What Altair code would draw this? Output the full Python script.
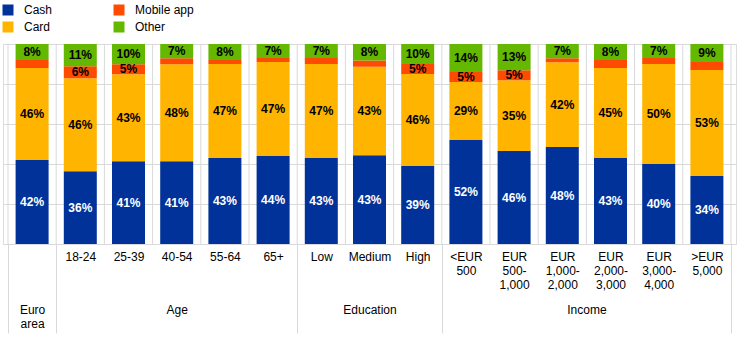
import altair as alt
import pandas as pd

categories = ["Euro area", "18-24", "25-39", "40-54", "55-64", "65+", "Low", "Medium", "High",
              "<EUR 500", "EUR 500-1,000", "EUR 1,000-2,000", "EUR 2,000-3,000",
              "EUR 3,000-4,000", ">EUR 5,000"]
tick_labels = ["", "18-24", "25-39", "40-54", "55-64", "65+", "Low", "Medium", "High",
               "<EUR|500", "EUR|500-|1,000", "EUR|1,000-|2,000", "EUR|2,000-|3,000",
               "EUR|3,000-|4,000", ">EUR|5,000"]
groups = ["Euro|area", "Age", "Education", "Income"]
group_sizes = [1, 5, 3, 6]

cash = [42, 36, 41, 41, 43, 44, 43, 43, 39, 52, 46, 48, 43, 40, 34]
card = [46, 46, 43, 48, 47, 47, 47, 43, 46, 29, 35, 42, 45, 50, 53]
mobile = [4, 6, 5, 3, 2, 2, 3, 3, 5, 5, 5, 2, 4, 3, 4]
other = [8, 11, 10, 7, 8, 7, 7, 8, 10, 14, 13, 7, 8, 7, 9]

series_names = ["Cash", "Card", "Mobile app", "Other"]
colors = {"Cash": "#003299", "Card": "#FFB400", "Mobile app": "#FF4B00", "Other": "#65B800"}

FONT = "Liberation Sans"
GRID = "#d9d9d9"

rows = []
for i, c in enumerate(categories):
    for k, (s, vals) in enumerate(zip(series_names, [cash, card, mobile, other])):
        rows.append({"cat": c, "pos": i + 0.5, "series": s, "ord": k, "value": vals[i]})
df = pd.DataFrame(rows)

n = len(categories)
bounds = pd.DataFrame({"b": list(range(n + 1))})
group_starts = []
acc = 0
for g in group_sizes:
    group_starts.append(acc)
    acc += g
group_bounds = group_starts + [acc]
group_centers = [s + g / 2 for s, g in zip(group_starts, group_sizes)]
group_arr = [""] * n
for gname, gc in zip(groups, group_centers):
    group_arr[int(gc)] = gname


def js_array(lst):
    return "[" + ",".join("'" + s.replace("'", "\\'") + "'" for s in lst) + "]"


xscale = alt.Scale(domain=[0, n], nice=False, zero=False)
yaxis = alt.Axis(grid=True, values=[0, 0.2, 0.4, 0.6, 0.8, 1.0], labels=False, ticks=False,
                 domain=False, title=None, gridColor=GRID, gridWidth=1)

grid_layer = alt.Chart(bounds).mark_rule(color=GRID, strokeWidth=1).encode(
    x=alt.X("b:Q", scale=xscale,
            axis=alt.Axis(orient="bottom", values=group_bounds, labels=False, ticks=True,
                          tickSize=89, tickColor=GRID, tickWidth=1, domain=False, grid=False,
                          title=None)),
    y=alt.value(0),
    y2=alt.value("height"),
)

bars = alt.Chart(df).mark_bar(size=33).encode(
    x=alt.X("pos:Q", scale=xscale,
            axis=alt.Axis(orient="bottom", values=[i + 0.5 for i in range(n)],
                          labelExpr="split(" + js_array(tick_labels) + "[floor(datum.value)], '|')",
                          ticks=False, domain=False, grid=False, title=None,
                          labelFont=FONT, labelFontSize=12, labelColor="black",
                          labelBaseline="top", labelPadding=7, labelLineHeight=14,
                          labelAngle=0, labelOverlap=False)),
    y=alt.Y("value:Q", stack="normalize", axis=yaxis),
    color=alt.Color("series:N",
                    scale=alt.Scale(domain=series_names, range=[colors[s] for s in series_names]),
                    legend=alt.Legend(orient="none", legendX=-1, legendY=-40, columns=2,
                                      columnPadding=60, rowPadding=5, symbolType="square",
                                      symbolSize=121, symbolStrokeWidth=0, title=None,
                                      labelFont=FONT, labelFontSize=12, labelColor="black",
                                      labelOffset=10, padding=0)),
    order=alt.Order("ord:Q", sort="ascending"),
)

labels = alt.Chart(df).transform_joinaggregate(
    total="sum(value)", groupby=["cat"]
).transform_calculate(
    share="datum.value / datum.total"
).transform_stack(
    stack="share", groupby=["cat"], sort=[alt.SortField("ord", order="ascending")], as_=["s0", "s1"]
).transform_calculate(
    mid="(datum.s0 + datum.s1) / 2",
    lab="datum.value + '%'"
).transform_filter(
    "datum.series != 'Mobile app' || datum.value >= 5"
).mark_text(font=FONT, fontSize=12, fontWeight="bold", baseline="middle", align="center").encode(
    x=alt.X("pos:Q", scale=xscale,
            axis=alt.Axis(orient="bottom", values=group_centers,
                          labelExpr="split(" + js_array(group_arr) + "[floor(datum.value)], '|')",
                          ticks=False, domain=False, grid=False, title=None,
                          labelFont=FONT, labelFontSize=12, labelColor="black",
                          labelBaseline="top", labelPadding=60, labelLineHeight=14,
                          labelAngle=0, labelOverlap=False)),
    y=alt.Y("mid:Q", axis=yaxis),
    text="lab:N",
    color=alt.condition("datum.series == 'Cash'", alt.value("white"), alt.value("black")),
)

chart = alt.layer(grid_layer, bars, labels).resolve_axis(x="independent").properties(
    width=733, height=200,
    padding={"left": 3, "top": 44, "right": 8, "bottom": 100},
    autosize=alt.AutoSizeParams(type="none"),
).configure_view(stroke=None).configure(background="white")

chart.save("out.html", embed_options={"renderer": "svg", "actions": False})
